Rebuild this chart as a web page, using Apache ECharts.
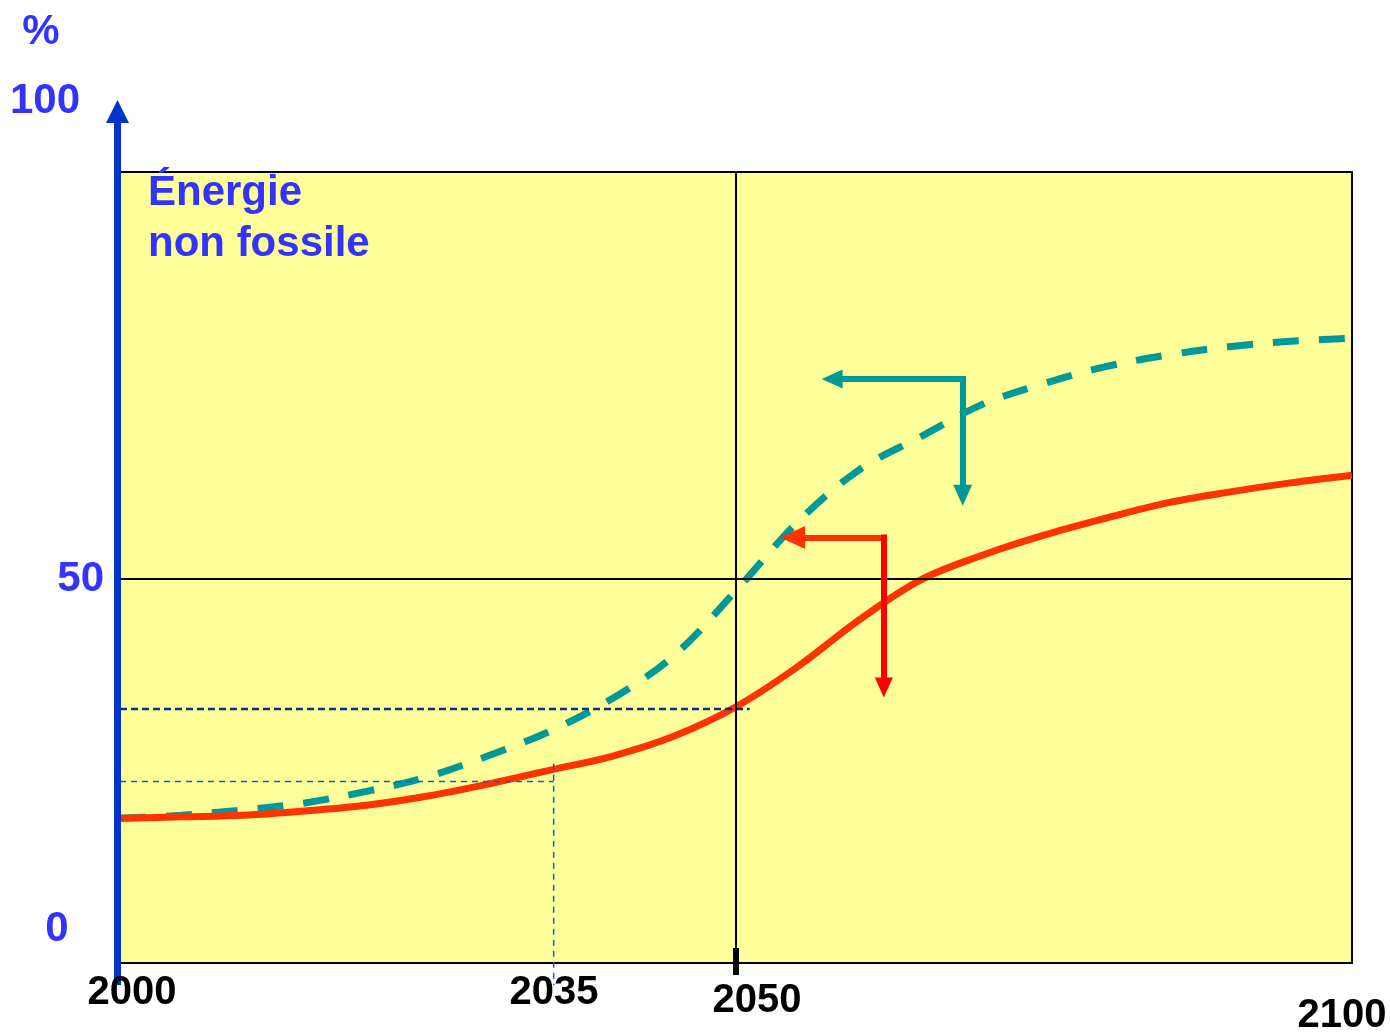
<!DOCTYPE html>
<html>
<head>
<meta charset="utf-8">
<script src="https://cdn.jsdelivr.net/npm/echarts@6/dist/echarts.min.js"></script>
<style>
html,body{margin:0;padding:0;background:#ffffff;}
#chart{width:1390px;height:1032px;}
</style>
</head>
<body>
<div id="chart"></div>
<script>
// ---- data ----
const years      = [2000, 2005, 2010, 2015, 2020, 2025, 2030, 2035, 2040, 2045, 2050, 2055, 2060, 2065, 2070, 2075, 2080, 2085, 2090, 2095, 2100];
const redValues  = [18.8, 19.0, 19.2, 19.75, 20.5, 21.7, 23.3, 25.1, 26.9, 29.5, 33.3, 38.5, 44.6, 49.8, 53.0, 55.6, 57.8, 59.8, 61.2, 62.4, 63.4];
const tealValues = [18.8, 19.2, 19.9, 20.8, 22.3, 24.2, 27.0, 30.2, 34.4, 40.0, 48.4, 57.3, 64.1, 68.4, 72.6, 75.3, 77.5, 79.0, 80.1, 80.8, 81.2];

// guide lines (year, value)
const guide2050 = [[2000, 33.0], [2051.1, 33.0]];
const guide2035H = [[2000, 23.6], [2035.2, 23.6]];
const guide2035V = [[2035.2, 25.9], [2035.2, -2.9]];

// arrows: corner, end of horizontal branch, end of vertical branch
const tealArrow = [[2068.4, 75.9], [2057.8, 75.9], [2068.4, 60.8]];
const redArrow  = [[2062.0, 55.3], [2054.6, 55.3], [2062.0, 35.8]];

// reference lines
const refYear = 2050;
const refValue = 50;

// labels
const xTickLabels = ['2000', '2035', '2050', '2100'];
const yTickLabels = ['0', '50', '100'];
const unitLabel = '%';
const titleLines = ['Énergie', 'non fossile'];

const xMin = 2000, xMax = 2100, yMin = 0, yMax = 102.8;

// ---- build ----
const zip = (a, b) => a.map((v, i) => [v, b[i]]);
const FONT = 'bold 42px "Liberation Sans", Arial, sans-serif';
const FONT_X = 'bold 40px "Liberation Sans", Arial, sans-serif';
const BLUE_TXT = '#3333ff';

const xLabelPos = [[132, 993], [554, 993], [757, 1001], [1342, 1016]];
const yLabelPos = [[57, 929], [104, 579], [80, 101]];
const yLabelAlign = ['center', 'right', 'right'];

const graphics = [];
xTickLabels.forEach((t, i) => graphics.push({
  type: 'text', z: 100,
  style: { text: t, x: xLabelPos[i][0], y: xLabelPos[i][1], font: FONT_X, fill: '#000', align: 'center', verticalAlign: 'middle' }
}));
yTickLabels.forEach((t, i) => graphics.push({
  type: 'text', z: 100,
  style: { text: t, x: yLabelPos[i][0], y: yLabelPos[i][1], font: FONT, fill: BLUE_TXT, align: yLabelAlign[i], verticalAlign: 'middle' }
}));
graphics.push({
  type: 'text', z: 100,
  style: { text: unitLabel, x: 41, y: 32, font: FONT, fill: BLUE_TXT, align: 'center', verticalAlign: 'middle' }
});
titleLines.forEach((t, i) => graphics.push({
  type: 'text', z: 100,
  style: { text: t, x: 148, y: 193 + i * 51, font: FONT, fill: BLUE_TXT, align: 'left', verticalAlign: 'middle' }
}));
// blue vertical axis with arrow head
graphics.push({
  type: 'line', z: 90,
  shape: { x1: 117.5, y1: 985, x2: 117.5, y2: 118 },
  style: { stroke: '#0033cc', lineWidth: 7 }
});
graphics.push({
  type: 'polygon', z: 90,
  shape: { points: [[106, 123], [129, 123], [117.5, 100]] },
  style: { fill: '#0033cc' }
});

const arrowLines = (arr, colH, colV, sizeH, sizeV) => [
  [{ coord: arr[0], lineStyle: { color: colH }, symbolSize: sizeH }, { coord: arr[1], symbolSize: sizeH }],
  [{ coord: arr[0], lineStyle: { color: colV }, symbolSize: sizeV }, { coord: arr[2], symbolSize: sizeV }]
];

const option = {
  animation: false,
  backgroundColor: '#ffffff',
  grid: {
    left: 120, top: 172, right: 38, bottom: 69,
    show: true, backgroundColor: '#ffff99', borderColor: '#000000', borderWidth: 2
  },
  xAxis: {
    type: 'value', min: xMin, max: xMax,
    axisLine: { show: false }, axisTick: { show: false }, axisLabel: { show: false }, splitLine: { show: false }
  },
  yAxis: {
    type: 'value', min: yMin, max: yMax,
    axisLine: { show: false }, axisTick: { show: false }, axisLabel: { show: false }, splitLine: { show: false }
  },
  series: [
    {
      name: 'ref', type: 'line', data: [], clip: false, silent: true,
      markLine: {
        silent: true, symbol: ['none', 'none'], label: { show: false }, emphasis: { disabled: true },
        lineStyle: { color: '#000000', width: 2, type: 'solid' },
        data: [
          [{ coord: [xMin, refValue] }, { coord: [xMax, refValue] }],
          [{ coord: [refYear, yMin] }, { coord: [refYear, yMax] }]
        ]
      }
    },
    {
      name: 'guide2050', type: 'line', data: guide2050, symbol: 'none', silent: true, clip: false, z: 4,
      lineStyle: { color: '#0a2f80', width: 2.5, type: [7, 4] }
    },
    {
      name: 'guide2035H', type: 'line', data: guide2035H, symbol: 'none', silent: true, clip: false, z: 4,
      lineStyle: { color: '#0066cc', width: 1.5, type: [6, 5] }
    },
    {
      name: 'guide2035V', type: 'line', data: guide2035V, symbol: 'none', silent: true, clip: false, z: 4,
      lineStyle: { color: '#0066cc', width: 1.5, type: [6, 5] }
    },
    {
      name: 'teal', type: 'line', data: zip(years, tealValues), symbol: 'none', smooth: 0.35, silent: true, z: 3,
      lineStyle: { color: '#009999', width: 7, type: [26, 20] },
      markLine: {
        silent: true, symbol: ['none', 'triangle'], label: { show: false }, emphasis: { disabled: true },
        lineStyle: { width: 6, type: 'solid', cap: 'square' },
        data: arrowLines(tealArrow, '#009999', '#009999', [19, 21], [19, 21])
      }
    },
    {
      name: 'red', type: 'line', data: zip(years, redValues), symbol: 'none', smooth: 0.35, silent: true, z: 3,
      lineStyle: { color: '#ff3300', width: 7, type: 'solid' },
      markLine: {
        silent: true, symbol: ['none', 'triangle'], label: { show: false }, emphasis: { disabled: true },
        lineStyle: { width: 6, type: 'solid', cap: 'square' },
        data: arrowLines(redArrow, '#ff3300', '#ff0000', [23, 25], [18, 20])
      }
    }
  ],
  graphic: graphics
};

const chart = echarts.init(document.getElementById('chart'), null, { renderer: 'canvas' });
chart.setOption(option);

// thick tick mark at the reference year on the bottom edge
const tickX = chart.convertToPixel({ xAxisIndex: 0 }, refYear);
const tickY = chart.convertToPixel({ yAxisIndex: 0 }, yMin);
graphics.push({
  type: 'line', z: 95,
  shape: { x1: tickX, y1: tickY - 15, x2: tickX, y2: tickY + 12 },
  style: { stroke: '#000000', lineWidth: 6 }
});
chart.setOption({ graphic: graphics });
</script>
</body>
</html>
